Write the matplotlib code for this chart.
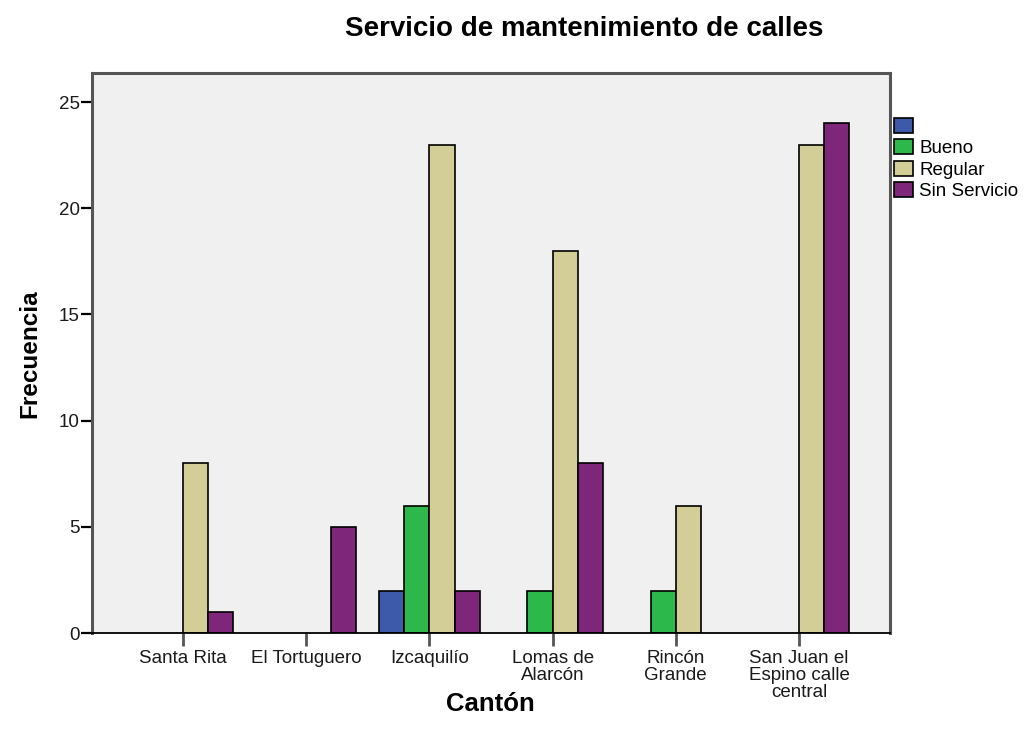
import matplotlib
matplotlib.use("Agg")
import matplotlib.pyplot as plt
from matplotlib.patches import Patch
import numpy as np

plt.rcParams['font.family'] = ['Liberation Sans', 'DejaVu Sans']

# Data
cantones = ["Santa Rita", "El Tortuguero", "Izcaquilío", "Lomas de\nAlarcón",
            "Rincón\nGrande", "San Juan el\nEspino calle\ncentral"]
series_names = ["", "Bueno", "Regular", "Sin Servicio"]
sin_respuesta = [0, 0, 2, 0, 0, 0]
bueno = [0, 0, 6, 2, 2, 0]
regular = [8, 0, 23, 18, 6, 23]
sin_servicio = [1, 5, 2, 8, 0, 24]
yticks = [0, 5, 10, 15, 20, 25]

colors = ["#3d59a9", "#2db84b", "#d3ce97", "#7e277a"]
series = [sin_respuesta, bueno, regular, sin_servicio]

fig = plt.figure(figsize=(10.31, 7.38), dpi=100)
ax = fig.add_axes([92 / 1031, 1 - 633 / 738, (890 - 92) / 1031, (633 - 73) / 738])
ax.set_facecolor("#f0f0f0")

x = np.arange(len(cantones))
w = 0.204
for j, (vals, col) in enumerate(zip(series, colors)):
    vals = np.asarray(vals)
    mask = vals > 0
    ax.bar(x[mask] + (j - 1.5) * w, vals[mask], width=w, color=col,
           edgecolor="black", linewidth=1.2, zorder=3)

ax.set_xlim(-0.739, len(cantones) - 1 + 0.739)
ax.set_ylim(0, 26.37)
ax.set_yticks(yticks)
ax.set_yticklabels([str(t) for t in yticks], fontsize=13.5, color="#1a1a1a")
ax.set_xticks(x)
ax.set_xticklabels(cantones, fontsize=13.5, color="#1a1a1a",
                   multialignment="center", linespacing=1.03)

ax.tick_params(axis="y", direction="out", length=8, width=1.6, color="black", pad=1)
ax.tick_params(axis="x", direction="out", length=9, width=2, color="#555555", pad=3)

for side in ["left", "top", "right"]:
    ax.spines[side].set_color("#555555")
    ax.spines[side].set_linewidth(2.2)
ax.spines["bottom"].set_color("black")
ax.spines["bottom"].set_linewidth(1.3)
ax.spines["bottom"].set_zorder(4)

ax.set_ylabel("Frecuencia", fontsize=17.5, fontweight="bold")
ax.yaxis.set_label_coords(-0.064, 0.498)
ax.set_xlabel("Cantón", fontsize=18.5, fontweight="bold")
ax.xaxis.set_label_coords(0.499, -0.106)

fig.text(584 / 1031, 1 - 29 / 738, "Servicio de mantenimiento de calles",
         fontsize=20, fontweight="bold", ha="center", va="center")

handles = [Patch(facecolor=c, edgecolor="black", linewidth=1.2) for c in colors]
ax.legend(handles, series_names, loc="upper left", bbox_to_anchor=(1.0, 0.927),
          frameon=False, fontsize=13.5, handlelength=1.05, handleheight=0.85,
          handletextpad=0.3, labelspacing=0.19, borderaxespad=0, borderpad=0.2)

fig.savefig("out.png", dpi=100)
